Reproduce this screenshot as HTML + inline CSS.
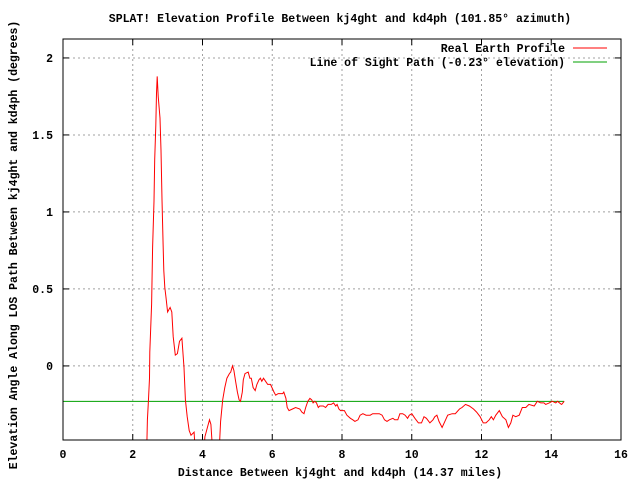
<!DOCTYPE html>
<html><head><meta charset="utf-8"><style>
body{margin:0;background:#fff;width:640px;height:480px;overflow:hidden}
text{font-family:"Liberation Mono",monospace;font-size:11.5px;font-weight:bold;fill:#000}
</style></head><body>
<svg id="chart" width="640" height="480" xmlns="http://www.w3.org/2000/svg">
<defs><clipPath id="plotclip"><rect x="63" y="39" width="558" height="401"/></clipPath></defs>
<text x="340" y="22" text-anchor="middle">SPLAT! Elevation Profile Between kj4ght and kd4ph (101.85° azimuth)</text>
<text transform="translate(17,245) rotate(-90)" text-anchor="middle">Elevation Angle Along LOS Path Between kj4ght and kd4ph (degrees)</text>
<text x="340" y="476" text-anchor="middle">Distance Between kj4ght and kd4ph (14.37 miles)</text>
<g id="grid"></g>
<g id="axes"></g>
<g clip-path="url(#plotclip)">
<path id="los" fill="none" stroke="#00a000" stroke-width="1"/>
<path id="profile" fill="none" stroke="#ff0000" stroke-width="1"/>
</g>
<rect x="63" y="39" width="558" height="401" fill="none" stroke="#000" stroke-width="1"/>
<g>
<text x="565" y="52" text-anchor="end">Real Earth Profile</text>
<line x1="573" y1="48" x2="607" y2="48" stroke="#ff0000"/>
<text x="565" y="66" text-anchor="end">Line of Sight Path (-0.23° elevation)</text>
<line x1="573" y1="62" x2="607" y2="62" stroke="#00a000"/>
</g>
</svg>
<script>
const xTicks=[0,2,4,6,8,10,12,14,16];
const yTicks=[0,0.5,1,1.5,2];
const yTickLabels=["0","0.5","1","1.5","2"];
const losAngle=-0.23;
const pathLength=14.37;
const dist=[2.40,2.42,2.45,2.48,2.49,2.54,2.57,2.61,2.63,2.66,2.68,2.70,2.73,2.78,2.81,2.84,2.87,2.89,2.92,2.95,3.00,3.07,3.12,3.16,3.22,3.28,3.34,3.41,3.47,3.51,3.56,3.62,3.67,3.76,3.79,4.04,4.07,4.14,4.20,4.24,4.29,4.48,4.52,4.58,4.64,4.70,4.77,4.81,4.86,4.90,4.95,5.00,5.05,5.09,5.14,5.17,5.22,5.31,5.36,5.40,5.45,5.51,5.56,5.62,5.66,5.70,5.75,5.81,5.87,5.95,5.99,6.05,6.10,6.17,6.30,6.33,6.39,6.43,6.48,6.58,6.67,6.79,6.85,6.91,6.96,7.02,7.08,7.13,7.17,7.22,7.27,7.32,7.36,7.46,7.53,7.60,7.69,7.76,7.82,7.86,7.91,7.96,8.07,8.14,8.24,8.31,8.37,8.46,8.52,8.60,8.69,8.81,8.88,8.98,9.07,9.15,9.22,9.29,9.36,9.46,9.51,9.60,9.66,9.74,9.81,9.88,9.93,10.00,10.09,10.19,10.28,10.35,10.42,10.52,10.61,10.66,10.72,10.78,10.87,10.97,11.03,11.16,11.25,11.37,11.44,11.54,11.65,11.77,11.86,11.96,12.05,12.13,12.22,12.28,12.34,12.41,12.51,12.60,12.70,12.77,12.84,12.90,12.98,13.08,13.17,13.27,13.36,13.51,13.60,13.70,13.79,13.84,13.94,14.03,14.13,14.18,14.29,14.30,14.37];
const angle=[-0.55,-0.35,-0.23,-0.08,0.09,0.40,0.77,1.07,1.34,1.56,1.77,1.88,1.75,1.61,1.40,1.08,0.79,0.62,0.51,0.45,0.35,0.38,0.35,0.19,0.07,0.08,0.16,0.18,-0.01,-0.22,-0.33,-0.42,-0.45,-0.43,-0.55,-0.55,-0.46,-0.40,-0.35,-0.38,-0.55,-0.55,-0.36,-0.22,-0.14,-0.08,-0.05,-0.04,0.00,-0.03,-0.10,-0.17,-0.22,-0.23,-0.17,-0.09,-0.05,-0.04,-0.08,-0.08,-0.14,-0.16,-0.12,-0.09,-0.08,-0.10,-0.08,-0.10,-0.12,-0.12,-0.14,-0.17,-0.19,-0.18,-0.18,-0.17,-0.21,-0.27,-0.29,-0.28,-0.27,-0.28,-0.30,-0.31,-0.27,-0.23,-0.21,-0.22,-0.24,-0.23,-0.24,-0.27,-0.26,-0.26,-0.27,-0.25,-0.25,-0.24,-0.26,-0.25,-0.28,-0.29,-0.29,-0.32,-0.34,-0.35,-0.36,-0.35,-0.32,-0.31,-0.32,-0.32,-0.31,-0.31,-0.31,-0.32,-0.35,-0.36,-0.35,-0.34,-0.35,-0.35,-0.31,-0.31,-0.32,-0.34,-0.32,-0.31,-0.34,-0.37,-0.37,-0.33,-0.34,-0.37,-0.35,-0.33,-0.32,-0.36,-0.40,-0.35,-0.32,-0.31,-0.31,-0.28,-0.27,-0.25,-0.26,-0.28,-0.30,-0.33,-0.37,-0.37,-0.35,-0.33,-0.35,-0.32,-0.29,-0.33,-0.35,-0.40,-0.37,-0.32,-0.33,-0.32,-0.27,-0.27,-0.25,-0.26,-0.23,-0.24,-0.24,-0.25,-0.24,-0.23,-0.24,-0.23,-0.25,-0.25,-0.23,-0.23];
const X0=63,X1=621,Y0=440,Y1=39,xMin=0,xMax=16,yMin=-0.481,yMax=2.123;
const sx=v=>X0+(v-xMin)/(xMax-xMin)*(X1-X0);
const sy=v=>Y0-(v-yMin)/(yMax-yMin)*(Y0-Y1);
const NS="http://www.w3.org/2000/svg";
const grid=document.getElementById('grid'),axes=document.getElementById('axes');
function mk(tag,attrs,parent){const e=document.createElementNS(NS,tag);for(const k in attrs)e.setAttribute(k,attrs[k]);parent.appendChild(e);return e;}
xTicks.forEach(t=>{
  const x=sx(t);
  if(t>xMin&&t<xMax){const g=mk('line',{x1:x,y1:Y1,x2:x,y2:Y0,stroke:'#a0a0a0','stroke-dasharray':'2,3'},grid);
  
  }
  const tk=mk('line',{x1:x,y1:Y0,x2:x,y2:Y0-6,stroke:'#000'},axes);
  
  
  const tk2=mk('line',{x1:x,y1:Y1,x2:x,y2:Y1+6,stroke:'#000'},axes);
  
  
  const l=mk('text',{x:x,y:458,'text-anchor':'middle'},axes);l.textContent=String(t);
  
  
});
yTicks.forEach((t,i)=>{
  const y=sy(t);
  const g=mk('line',{x1:X0,y1:y,x2:X1,y2:y,stroke:'#a0a0a0','stroke-dasharray':'2,3'},grid);
  
  
  const tk=mk('line',{x1:X0,y1:y,x2:X0+6,y2:y,stroke:'#000'},axes);
  
  
  const tk2=mk('line',{x1:X1,y1:y,x2:X1-6,y2:y,stroke:'#000'},axes);
  
  
  const l=mk('text',{x:X0-10,y:y+4,'text-anchor':'end'},axes);l.textContent=yTickLabels[i];
  
  
});
document.getElementById('los').setAttribute('d','M'+sx(0)+','+sy(losAngle)+'L'+sx(pathLength)+','+sy(losAngle));
document.getElementById('profile').setAttribute('d',dist.map((d,i)=>(i?'L':'M')+sx(d).toFixed(1)+','+sy(angle[i]).toFixed(1)).join(''));
</script>
</body></html>
